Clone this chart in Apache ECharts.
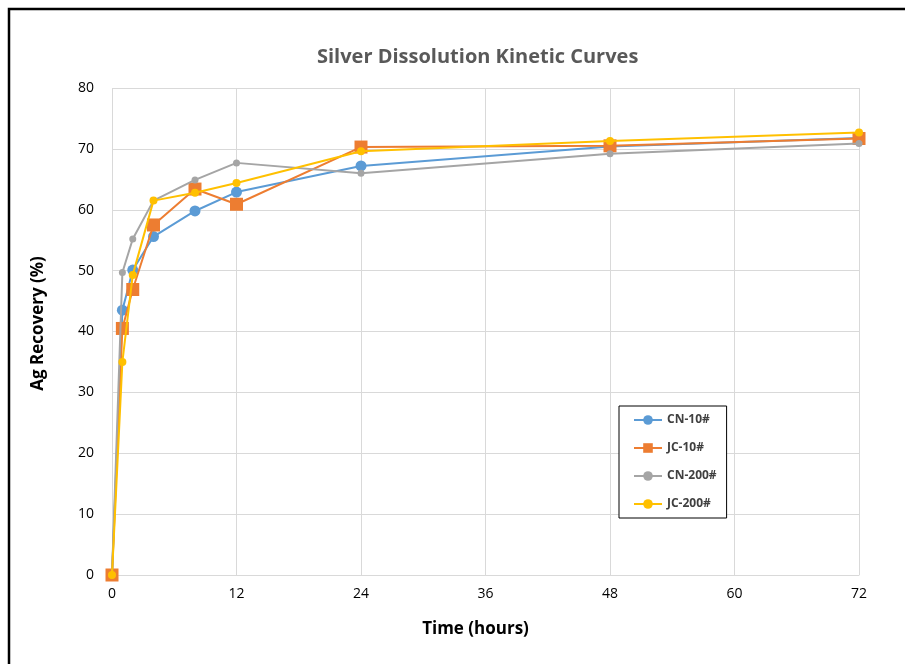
<!DOCTYPE html>
<html>
<head>
<meta charset="utf-8">
<script src="https://cdn.jsdelivr.net/npm/echarts@6/dist/echarts.min.js"></script>
<style>
  html, body { margin: 0; padding: 0; background: #fff; }
  #chart { width: 905px; height: 664px; }
</style>
</head>
<body>
<div id="chart"></div>
<script>
// Sampling times (hours)
const hours = [0, 1, 2, 4, 8, 12, 24, 48, 72];

// Ag recovery (%) per sample
const cn10  = [0, 43.5, 50.1, 55.6, 59.8, 62.9, 67.2, 70.4, 71.8];
const jc10  = [0, 40.5, 46.9, 57.5, 63.4, 60.9, 70.3, 70.5, 71.7];
const cn200 = [0, 49.7, 55.2, 61.5, 64.9, 67.7, 66.0, 69.2, 70.9];
const jc200 = [0, 35.0, 49.3, 61.5, 62.8, 64.4, 69.6, 71.3, 72.7];

const seriesNames = ['CN-10#', 'JC-10#', 'CN-200#', 'JC-200#'];

const FONT = '"Open Sans", "Liberation Sans", sans-serif';

function pairs(values) {
  return hours.map((h, i) => [h, values[i]]);
}

function makeSeries(name, values, color, symbol, size, z) {
  return {
    name: name,
    type: 'line',
    data: pairs(values),
    symbol: symbol,
    symbolSize: size,
    z: z,
    lineStyle: { color: color, width: 2 },
    itemStyle: { color: color },
    emphasis: { disabled: true },
    animation: false
  };
}

const chart = echarts.init(document.getElementById('chart'), null, { renderer: 'canvas' });

chart.setOption({
  backgroundColor: '#ffffff',
  animation: false,
  title: {
    text: 'Silver Dissolution Kinetic Curves',
    left: 312,
    top: 42,
    textStyle: { fontFamily: FONT, fontSize: 20, fontWeight: 'bold', color: '#595959' }
  },
  grid: { left: 112, top: 88, right: 46, bottom: 89, containLabel: false },
  legend: {
    orient: 'vertical',
    left: 619,
    top: 406,
    width: 110,
    padding: [8, 10, 8, 14],
    itemGap: 16,
    itemWidth: 28,
    itemHeight: 12,
    borderColor: '#000',
    borderWidth: 1,
    backgroundColor: '#fff',
    data: seriesNames,
    textStyle: { fontFamily: FONT, fontSize: 12, fontWeight: 'bold', color: '#404040', padding: [0, 17, 0, 0] }
  },
  xAxis: {
    type: 'value',
    min: 0,
    max: 72,
    interval: 12,
    name: 'Time (hours)',
    nameLocation: 'middle',
    nameGap: 46,
    nameTextStyle: { fontFamily: FONT, fontSize: 17, fontWeight: 'bold', color: '#000', padding: [0, 20, 0, 0] },
    axisLine: { show: true, lineStyle: { color: '#d9d9d9', width: 1 } },
    axisTick: { show: false },
    axisLabel: { fontFamily: FONT, fontSize: 14, color: '#000', margin: 12 },
    splitLine: { show: true, lineStyle: { color: '#d9d9d9', width: 1 } }
  },
  yAxis: {
    type: 'value',
    min: 0,
    max: 80,
    interval: 10,
    name: 'Ag Recovery (%)',
    nameLocation: 'middle',
    nameGap: 65,
    nameTextStyle: { fontFamily: FONT, fontSize: 17, fontWeight: 'bold', color: '#000', padding: [0, 0, 0, 16] },
    axisLine: { show: false },
    axisTick: { show: false },
    axisLabel: { fontFamily: FONT, fontSize: 14, color: '#000', margin: 18 },
    splitLine: { show: true, lineStyle: { color: '#d9d9d9', width: 1 } }
  },
  series: [
    makeSeries('CN-10#', cn10, '#5B9BD5', 'circle', 11, 2),
    makeSeries('JC-10#', jc10, '#ED7D31', 'rect', 13, 3),
    makeSeries('CN-200#', cn200, '#A5A5A5', 'circle', 7, 4),
    makeSeries('JC-200#', jc200, '#FFC000', 'circle', 8, 5)
  ],
  graphic: [
    {
      type: 'rect',
      shape: { x: 9, y: 9, width: 1000, height: 1000 },
      style: { fill: null, stroke: '#000', lineWidth: 2.5 },
      silent: true,
      z: 100
    }
  ]
});
</script>
</body>
</html>
